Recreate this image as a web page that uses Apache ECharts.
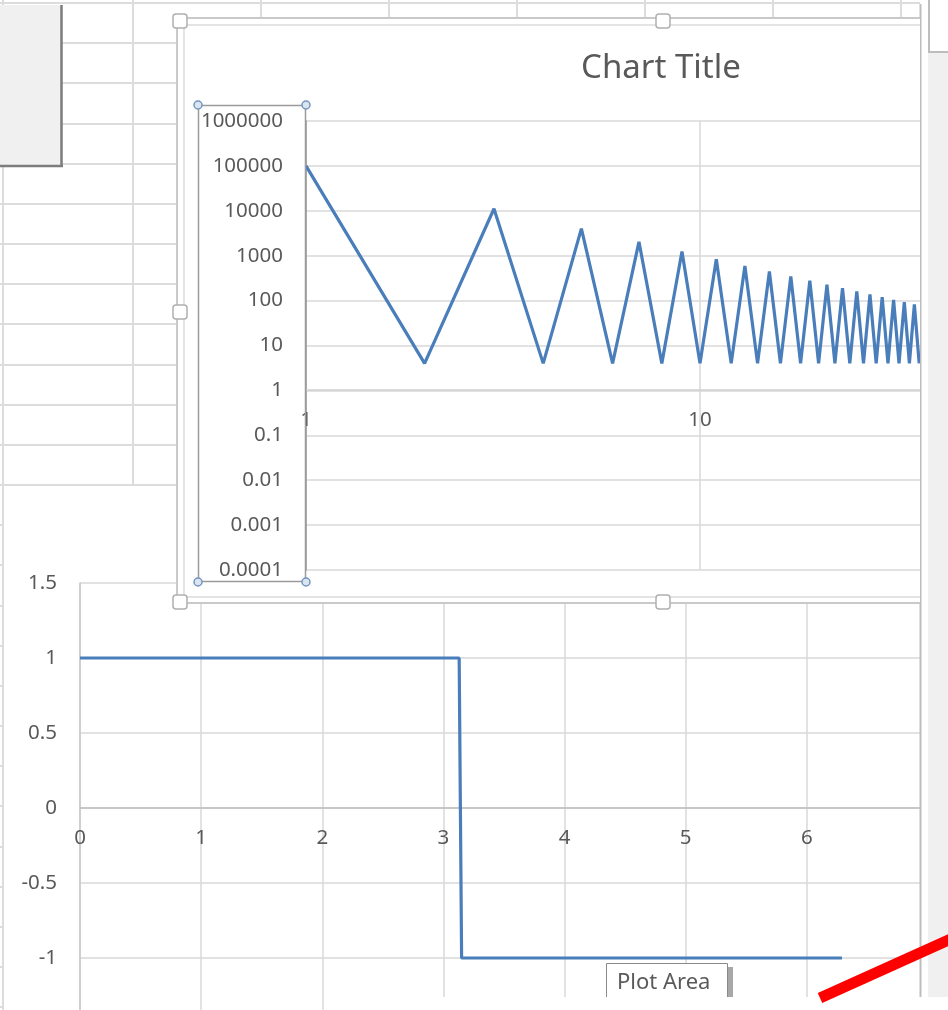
<!DOCTYPE html>
<html><head><meta charset="utf-8">
<script src="https://cdn.jsdelivr.net/npm/echarts@6/dist/echarts.min.js"></script>
<style>
html,body{margin:0;padding:0;width:948px;height:1010px;overflow:hidden;background:#fff;}
#bottom{position:absolute;left:0;top:0;width:948px;height:1040px;}
#wrap{position:absolute;left:0;top:0;width:920px;height:620px;overflow:hidden;}
#top{position:absolute;left:0;top:0;width:1322px;height:620px;}
</style></head><body>
<div id="bottom"></div>
<div id="wrap"><div id="top"></div></div>
<script>
// ---- data: upper (log-log) chart ----
const topX = [1,2,3,4,5,6,7,8,9,10,11,12,13,14,15,16,17,18,19,20,21,22,23,24,25,26,27,28,29,30,31,32,33,34,35,36];
const topY = [100000,4,11100,4,4000,4,2040,4,1240,4,830,4,590,4,445,4,346,4,277,4,227,4,189,4,160,4,137,4,119,4,104,4,92,4,82,4];
const topYTickLabels = ['0.0001','0.001','0.01','0.1','1','10','100','1000','10000','100000','1000000'];
const topXTickLabels = ['1','10','100'];
const topTitle = 'Chart Title';

// ---- data: lower (square wave) chart ----
const sqX = [0, 3.13, 3.15, 6.29];
const sqY = [1, 1, -1, -1];
const sqXTickLabels = ['0','1','2','3','4','5','6',''];

const FONT = 'Noto Sans';
const LBL = '#595959';
const GRID = '#d9d9d9';
const BLUE = '#4a7ebb';
const LFS = 20.5;

// ---------- lower chart + sheet decorations ----------
const bg = [];
const sheet = '#dcdcdc';
for (let k = 0; k <= 25; k++) {
  const y = Math.round(3 + 40.17 * k);
  let x2 = 177;
  if (k === 0) x2 = 920;
  if (k > 12) x2 = 3;
  bg.push({type:'line', z:-10, shape:{x1:0,y1:y,x2:x2,y2:y}, style:{stroke:sheet,lineWidth:2}});
}
bg.push({type:'line', z:-10, shape:{x1:3,y1:0,x2:3,y2:1010}, style:{stroke:sheet,lineWidth:2}});
bg.push({type:'line', z:-10, shape:{x1:133,y1:0,x2:133,y2:485}, style:{stroke:sheet,lineWidth:2}});
[261,389,517,645,773,901].forEach(x=>bg.push({type:'line', z:-10, shape:{x1:x,y1:0,x2:x,y2:18}, style:{stroke:sheet,lineWidth:2}}));
bg.push({type:'rect', z:-9, shape:{x:4,y:486,width:960,height:600}, style:{fill:'#fff'}});

const over = [
  // top-left grey box
  {type:'rect', z:100, shape:{x:0,y:5,width:61,height:160}, style:{fill:'#f0f0f0'}},
  {type:'line', z:100, shape:{x1:61.5,y1:5,x2:61.5,y2:167}, style:{stroke:'#7d7d7d',lineWidth:2.5}},
  {type:'line', z:100, shape:{x1:0,y1:166,x2:63,y2:166}, style:{stroke:'#7d7d7d',lineWidth:2.5}},
  // right pane
  {type:'rect', z:100, shape:{x:921,y:0,width:30,height:997}, style:{fill:'#fff'}},
  {type:'line', z:100, shape:{x1:920.5,y1:4,x2:920.5,y2:997}, style:{stroke:'#bdbdbd',lineWidth:2}},
  {type:'rect', z:100, shape:{x:928,y:52,width:22,height:945}, style:{fill:'#f0f0f0'}},
  {type:'line', z:100, shape:{x1:929,y1:0,x2:929,y2:52}, style:{stroke:'#bdbdbd',lineWidth:2}},
  {type:'line', z:100, shape:{x1:928,y1:52,x2:948,y2:52}, style:{stroke:'#bdbdbd',lineWidth:2}},
  // tooltip
  {type:'rect', z:100, shape:{x:728,y:967,width:5,height:40}, style:{fill:'#a8a8a8'}},
  {type:'rect', z:100, shape:{x:606.5,y:963.5,width:121,height:45}, style:{fill:'#fff',stroke:'#8a8a8a',lineWidth:1}},
  {type:'text', z:101, style:{x:617,y:983,text:'Plot Area',font:'22px "Noto Sans"',fill:'#5a5a5a',verticalAlign:'middle'}},
  // bottom white strip
  {type:'rect', z:103, shape:{x:440,y:997,width:520,height:20}, style:{fill:'#fff'}},
  // red stroke
  {type:'line', z:104, shape:{x1:820,y1:998,x2:962,y2:934}, style:{stroke:'#ff0000',lineWidth:11,lineCap:'butt'}}
];

const bottom = echarts.init(document.getElementById('bottom'), null, {renderer:'canvas'});
bottom.setOption({
  animation:false,
  backgroundColor:'transparent',
  textStyle:{fontFamily:FONT},
  graphic: bg.concat(over),
  grid:{left:80, top:583, width:848, height:450, containLabel:false, outerBoundsMode:'none'},
  xAxis:{
    type:'value', min:0, max:7, interval:1,
    position:'bottom', offset:-225,
    axisLine:{show:true, onZero:false, lineStyle:{color:'#bfbfbf', width:1.5}},
    axisTick:{show:false},
    axisLabel:{show:true, margin:20, fontSize:LFS, color:LBL, fontFamily:FONT,
      formatter:v=>sqXTickLabels[Math.round(v)]},
    splitLine:{show:true, lineStyle:{color:GRID, width:1.5}}
  },
  yAxis:{
    type:'value', min:-1.5, max:1.5, interval:0.5,
    axisLine:{show:true, onZero:false, lineStyle:{color:'#c8c8c8', width:1.5}},
    axisTick:{show:false},
    axisLabel:{margin:23, fontSize:LFS, color:LBL, fontFamily:FONT},
    splitLine:{show:true, lineStyle:{color:GRID, width:1.5}}
  },
  series:[{
    type:'line', data: sqX.map((x,i)=>[x, sqY[i]]),
    showSymbol:false, symbol:'none',
    lineStyle:{color:BLUE, width:3.2}
  }]
});

// ---------- upper chart ----------
function handle(cx, cy){
  return {type:'rect', z:60, shape:{x:cx-7,y:cy-7,width:14,height:14,r:3}, style:{fill:'#fff',stroke:'#b0b0b0',lineWidth:1.5}};
}
function dot(cx, cy){
  return {type:'circle', z:61, shape:{cx:cx,cy:cy,r:4}, style:{fill:'#dbe5f1',stroke:'#7396bd',lineWidth:1.5}};
}
const topGraphic = [
  {type:'rect', z:-10, shape:{x:177,y:18,width:1140,height:585}, style:{fill:'#fff',stroke:'#c9c9c9',lineWidth:2}},
  {type:'rect', z:-9, shape:{x:184,y:25,width:1126,height:572}, style:{fill:null,stroke:'#dcdcdc',lineWidth:1.5}},
  {type:'rect', z:50, shape:{x:198.5,y:105.5,width:107,height:476}, style:{fill:null,stroke:'#9c9c9c',lineWidth:1.5}},
  dot(198,105), dot(306,105), dot(198,582), dot(306,582),
  handle(180,21), handle(663,21), handle(180,312), handle(180,602), handle(663,602)
];

const topChart = echarts.init(document.getElementById('top'), null, {renderer:'canvas'});
topChart.setOption({
  animation:false,
  backgroundColor:'transparent',
  textStyle:{fontFamily:FONT},
  title:{text:topTitle, left:'center', top:52, padding:0,
    textStyle:{fontSize:33, fontWeight:'normal', color:LBL, fontFamily:FONT}},
  graphic: topGraphic,
  grid:{left:306, top:121, width:788, height:449, containLabel:false, outerBoundsMode:'none'},
  xAxis:{
    type:'log', logBase:10, min:1, max:100, interval:1,
    position:'bottom', offset:-180,
    axisLine:{show:true, onZero:false, lineStyle:{color:'#cfcfcf', width:1.5}},
    axisTick:{show:false},
    axisLabel:{margin:20, fontSize:LFS, color:LBL, fontFamily:FONT,
      formatter:v=>topXTickLabels[Math.round(Math.log10(v))]},
    splitLine:{show:true, lineStyle:{color:GRID, width:1.5}}
  },
  yAxis:{
    type:'log', logBase:10, min:0.0001, max:1000000, interval:1,
    axisLine:{show:true, onZero:false, lineStyle:{color:'#9c9c9c', width:1.5}},
    axisTick:{show:false},
    axisLabel:{margin:23, fontSize:LFS, color:LBL, fontFamily:FONT,
      formatter:v=>topYTickLabels[Math.round(Math.log10(v/0.0001))]},
    splitLine:{show:true, lineStyle:{color:GRID, width:1.5}}
  },
  series:[{
    type:'line', data: topX.map((x,i)=>[x, topY[i]]),
    showSymbol:false, symbol:'none',
    lineStyle:{color:BLUE, width:3.2}
  }]
});
</script>
</body></html>
